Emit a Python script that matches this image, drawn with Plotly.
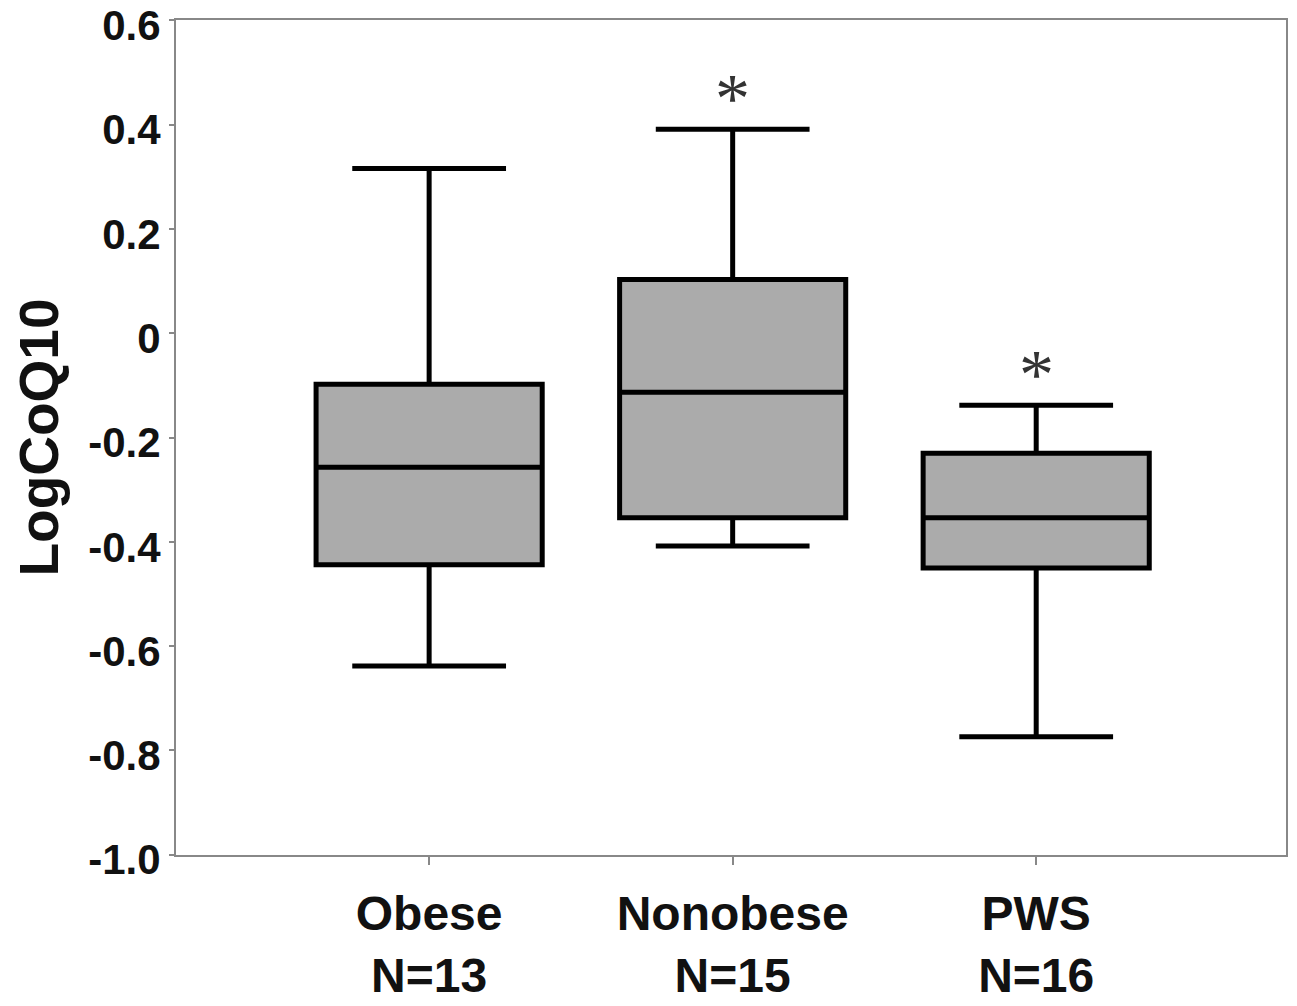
import plotly.graph_objects as go

categories = ["Obese", "Nonobese", "PWS"]
n_labels = ["N=13", "N=15", "N=16"]
upper_fence = [0.316, 0.391, -0.138]
q3 = [-0.098, 0.103, -0.230]
median = [-0.257, -0.113, -0.354]
q1 = [-0.444, -0.354, -0.450]
lower_fence = [-0.638, -0.408, -0.774]
significant = [False, True, True]

ytick_vals = [0.6, 0.4, 0.2, 0, -0.2, -0.4, -0.6, -0.8, -1.0]
ytick_text = ["0.6", "0.4", "0.2", "0", "-0.2", "-0.4", "-0.6", "-0.8", "-1.0"]

fig = go.Figure()
fig.add_trace(go.Box(
    x=categories,
    q1=q1, median=median, q3=q3,
    lowerfence=lower_fence, upperfence=upper_fence,
    fillcolor="#ababab",
    line=dict(color="black", width=5),
    whiskerwidth=0.68,
    width=0.745,
    boxpoints=False,
    hoverinfo="skip",
    showlegend=False,
))

for cat, uf, sig in zip(categories, upper_fence, significant):
    if sig:
        fig.add_annotation(x=cat, y=uf, text="*", showarrow=False,
                           yanchor="bottom", yshift=-10,
                           font=dict(family="Liberation Serif", size=70, color="#333333"))

# page body adds an 8px offset, so the figure is sized to fit the window
fig.update_layout(
    width=1289, height=998,
    margin=dict(l=168, r=11, t=12, b=151, autoexpand=False),
    paper_bgcolor="white", plot_bgcolor="white",
    font=dict(family="Liberation Sans", color="#111111"),
)
fig.update_xaxes(
    type="category",
    range=[-0.834, 2.823],
    tickvals=categories,
    ticktext=[f"<b>{c}</b><br><b>{n}</b>" for c, n in zip(categories, n_labels)],
    tickfont=dict(family="Liberation Sans", size=48, color="#111111"),
    ticks="outside", ticklen=8, tickwidth=2, tickcolor="#888888",
    ticklabelstandoff=7,
    showline=True, linecolor="#888888", linewidth=2, mirror=True,
    showgrid=False, zeroline=False, automargin=False,
)
fig.update_yaxes(
    range=[-1.0005, 0.6005],
    tickvals=ytick_vals,
    ticktext=[f"<b>{t}</b>" for t in ytick_text],
    tickfont=dict(family="Liberation Sans", size=42, color="#111111"),
    ticks="outside", ticklen=5, tickwidth=2, tickcolor="#888888",
    ticklabelstandoff=0, ticklabelshift=5, ticklabeloverflow="allow",
    showline=True, linecolor="#888888", linewidth=2, mirror=True,
    showgrid=False, zeroline=False, automargin=False,
    title=dict(text="<b>LogCoQ10</b>", font=dict(family="Liberation Sans", size=55, color="#111111"), standoff=26),
)

fig.write_html("out.html")
